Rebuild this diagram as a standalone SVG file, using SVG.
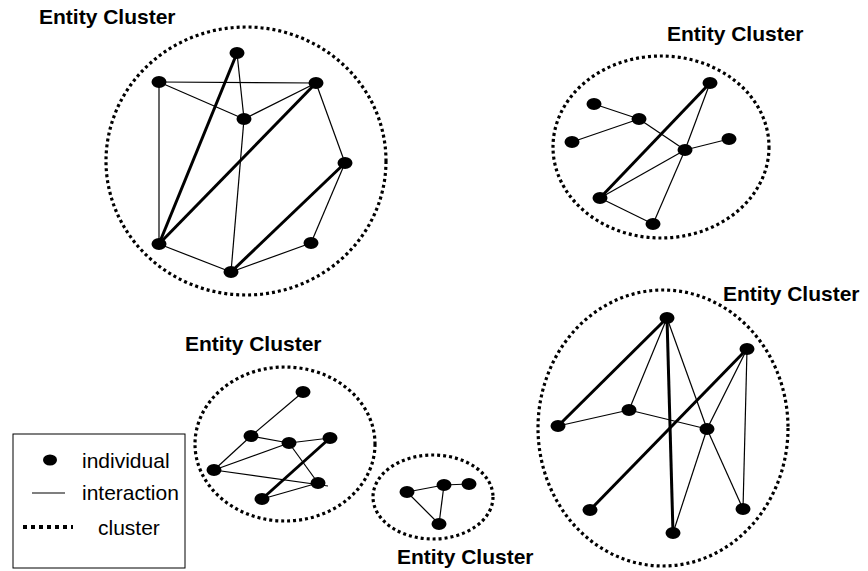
<svg xmlns="http://www.w3.org/2000/svg" width="868" height="571" viewBox="0 0 868 571">
<style>
.cl{fill:none;stroke:#000;stroke-width:3.2;stroke-dasharray:3 3}
.n{fill:#000}
.t{stroke:#000;stroke-width:1.2;fill:none}
.k{stroke:#000;stroke-width:3;fill:none}
.lbl{font-family:"Liberation Sans",Arial,sans-serif;font-weight:bold;font-size:21px;fill:#000}
.lg{font-family:"Liberation Sans",Arial,sans-serif;font-size:21px;fill:#000}
</style>
<rect width="868" height="571" fill="#fff"/>
<g id="clusters">
<ellipse class="cl" cx="246" cy="161" rx="140" ry="134"/>
<ellipse class="cl" cx="661" cy="147" rx="108" ry="91"/>
<ellipse class="cl" cx="285" cy="444" rx="90" ry="77"/>
<ellipse class="cl" cx="433" cy="497" rx="60" ry="42"/>
<ellipse class="cl" cx="663" cy="428" rx="125" ry="138"/>
</g>
<g id="connectors">
<line class="k" x1="237" y1="53" x2="159" y2="244"/>
<line class="t" x1="237" y1="53" x2="244" y2="119"/>
<line class="t" x1="159" y1="82" x2="316" y2="83"/>
<line class="t" x1="159" y1="82" x2="244" y2="119"/>
<line class="t" x1="159" y1="82" x2="159" y2="244"/>
<line class="t" x1="316" y1="83" x2="244" y2="119"/>
<line class="k" x1="316" y1="83" x2="159" y2="244"/>
<line class="t" x1="316" y1="83" x2="345" y2="163"/>
<line class="t" x1="244" y1="119" x2="231" y2="272"/>
<line class="k" x1="345" y1="163" x2="231" y2="272"/>
<line class="t" x1="345" y1="163" x2="311" y2="243"/>
<line class="t" x1="159" y1="244" x2="231" y2="272"/>
<line class="t" x1="311" y1="243" x2="231" y2="272"/>
<line class="k" x1="710" y1="83" x2="600" y2="198"/>
<line class="t" x1="710" y1="83" x2="685" y2="150"/>
<line class="t" x1="685" y1="150" x2="653" y2="224"/>
<line class="t" x1="594" y1="104" x2="639" y2="119"/>
<line class="t" x1="639" y1="119" x2="572" y2="142"/>
<line class="t" x1="639" y1="119" x2="685" y2="150"/>
<line class="t" x1="685" y1="150" x2="729" y2="139"/>
<line class="t" x1="685" y1="150" x2="600" y2="198"/>
<line class="t" x1="600" y1="198" x2="653" y2="224"/>
<line class="t" x1="303" y1="392" x2="251" y2="436"/>
<line class="t" x1="251" y1="436" x2="214" y2="470"/>
<line class="t" x1="251" y1="436" x2="289" y2="443"/>
<line class="t" x1="289" y1="443" x2="330" y2="438"/>
<line class="t" x1="289" y1="443" x2="214" y2="470"/>
<line class="t" x1="289" y1="443" x2="318" y2="483"/>
<line class="t" x1="214" y1="470" x2="328" y2="486"/>
<line class="k" x1="330" y1="438" x2="262" y2="499"/>
<line class="t" x1="262" y1="499" x2="318" y2="483"/>
<line class="t" x1="407" y1="492" x2="444" y2="485"/>
<line class="t" x1="444" y1="485" x2="469" y2="484"/>
<line class="t" x1="407" y1="492" x2="439" y2="524"/>
<line class="t" x1="444" y1="485" x2="439" y2="524"/>
<line class="k" x1="667" y1="318" x2="558" y2="426"/>
<line class="t" x1="667" y1="318" x2="629" y2="410"/>
<line class="k" x1="667" y1="318" x2="673" y2="533"/>
<line class="t" x1="667" y1="318" x2="707" y2="429"/>
<line class="t" x1="707" y1="429" x2="743" y2="509"/>
<line class="k" x1="747" y1="349" x2="590" y2="510"/>
<line class="t" x1="747" y1="349" x2="707" y2="429"/>
<line class="t" x1="747" y1="349" x2="743" y2="509"/>
<line class="t" x1="629" y1="410" x2="558" y2="426"/>
<line class="t" x1="629" y1="410" x2="707" y2="429"/>
<line class="t" x1="707" y1="429" x2="673" y2="533"/>
</g>
<g id="nodes">
<g id="c1"><ellipse class="n" cx="237" cy="53" rx="7.5" ry="6"/><ellipse class="n" cx="159" cy="82" rx="7.5" ry="6"/><ellipse class="n" cx="316" cy="83" rx="7.5" ry="6"/><ellipse class="n" cx="244" cy="119" rx="7.5" ry="6"/><ellipse class="n" cx="345" cy="163" rx="7.5" ry="6"/><ellipse class="n" cx="159" cy="244" rx="7.5" ry="6"/><ellipse class="n" cx="311" cy="243" rx="7.5" ry="6"/><ellipse class="n" cx="231" cy="272" rx="7.5" ry="6"/></g>
<g id="c2"><ellipse class="n" cx="710" cy="83" rx="7.5" ry="6"/><ellipse class="n" cx="594" cy="104" rx="7.5" ry="6"/><ellipse class="n" cx="639" cy="119" rx="7.5" ry="6"/><ellipse class="n" cx="572" cy="142" rx="7.5" ry="6"/><ellipse class="n" cx="729" cy="139" rx="7.5" ry="6"/><ellipse class="n" cx="685" cy="150" rx="7.5" ry="6"/><ellipse class="n" cx="600" cy="198" rx="7.5" ry="6"/><ellipse class="n" cx="653" cy="224" rx="7.5" ry="6"/></g>
<g id="c3"><ellipse class="n" cx="303" cy="392" rx="7.5" ry="6"/><ellipse class="n" cx="251" cy="436" rx="7.5" ry="6"/><ellipse class="n" cx="289" cy="443" rx="7.5" ry="6"/><ellipse class="n" cx="330" cy="438" rx="7.5" ry="6"/><ellipse class="n" cx="214" cy="470" rx="7.5" ry="6"/><ellipse class="n" cx="318" cy="483" rx="7.5" ry="6"/><ellipse class="n" cx="262" cy="499" rx="7.5" ry="6"/></g>
<g id="c4"><ellipse class="n" cx="407" cy="492" rx="7.5" ry="6"/><ellipse class="n" cx="444" cy="485" rx="7.5" ry="6"/><ellipse class="n" cx="469" cy="484" rx="7.5" ry="6"/><ellipse class="n" cx="439" cy="524" rx="7.5" ry="6"/></g>
<g id="c5"><ellipse class="n" cx="667" cy="318" rx="7.5" ry="6"/><ellipse class="n" cx="747" cy="349" rx="7.5" ry="6"/><ellipse class="n" cx="629" cy="410" rx="7.5" ry="6"/><ellipse class="n" cx="558" cy="426" rx="7.5" ry="6"/><ellipse class="n" cx="707" cy="429" rx="7.5" ry="6"/><ellipse class="n" cx="590" cy="510" rx="7.5" ry="6"/><ellipse class="n" cx="743" cy="509" rx="7.5" ry="6"/><ellipse class="n" cx="673" cy="533" rx="7.5" ry="6"/></g>
</g>
<g id="labels">
<text class="lbl" x="39" y="24">Entity Cluster</text>
<text class="lbl" x="667" y="41">Entity Cluster</text>
<text class="lbl" x="723" y="301">Entity Cluster</text>
<text class="lbl" x="185" y="351">Entity Cluster</text>
<text class="lbl" x="397" y="564">Entity Cluster</text>
</g>
<g id="legend">
<rect x="13" y="434" width="172" height="134" fill="#fff" stroke="#000" stroke-width="1"/>
<ellipse class="n" cx="50" cy="460" rx="7" ry="5.5"/>
<text class="lg" x="82" y="468">individual</text>
<line class="t" x1="32" y1="493" x2="65" y2="493"/>
<text class="lg" x="82" y="500">interaction</text>
<line x1="23" y1="527" x2="73" y2="527" stroke="#000" stroke-width="4" stroke-dasharray="4 4"/>
<text class="lg" x="98" y="535">cluster</text>
</g>
</svg>
